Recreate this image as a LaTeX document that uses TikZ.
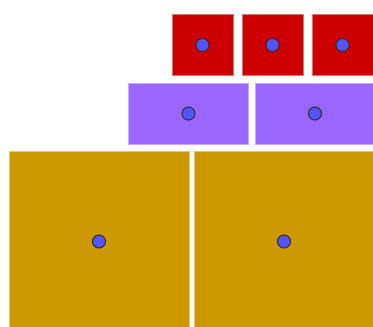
\documentclass[tikz,border=0pt]{standalone}
\usetikzlibrary{positioning}
\definecolor{tilered}{HTML}{CC0000}
\definecolor{tilepurple}{HTML}{9966FF}
\definecolor{tilegold}{HTML}{CC9900}
\definecolor{dotblue}{HTML}{5454FF}

\begin{document}
\begin{tikzpicture}[x=1pt,y=-1pt,
 redtile/.style={draw=tilered!55!white,line width=0.6pt,fill=tilered,minimum width=61pt,minimum height=61pt,inner sep=0pt},
 purpletile/.style={draw=tilepurple!55!white,line width=0.6pt,fill=tilepurple,minimum width=120pt,minimum height=61pt,inner sep=0pt},
 goldtile/.style={draw=tilegold!55!white,line width=0.6pt,fill=tilegold,minimum width=180pt,minimum height=180pt,inner sep=0pt},
 dot/.style={draw=black!80,line width=1.1pt,circle,fill=dotblue,minimum size=13pt,inner sep=0pt}]
\useasboundingbox (0,0) rectangle (373,327);
\clip (0,0) rectangle (373,327);
\node[redtile] (r1) at (202.5,45) {};
\node[redtile] (r2) at (272.5,45) {};
\node[redtile] (r3) at (342.5,45) {};
\node[purpletile] (p1) at (188.5,113.5) {};
\node[purpletile] (p2) at (315,113.5) {};
\node[goldtile] (g1) at (99,241.5) {};
\node[goldtile] (g2) at (284,241.5) {};
\node[dot] (d1) at (r1.center) {};
\node[dot] (d2) at (r2.center) {};
\node[dot] (d3) at (r3.center) {};
\node[dot] (d4) at (p1.center) {};
\node[dot] (d5) at (p2.center) {};
\node[dot] (d6) at (g1.center) {};
\node[dot] (d7) at (g2.center) {};
\end{tikzpicture}
\end{document}
